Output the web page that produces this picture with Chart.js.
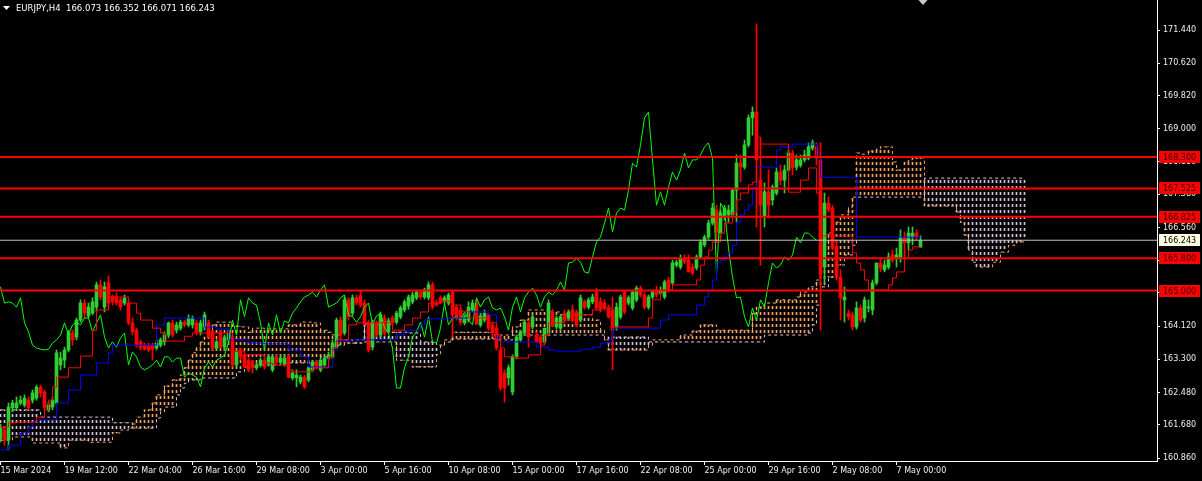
<!DOCTYPE html>
<html>
<head>
<meta charset="utf-8">
<script src="https://cdn.jsdelivr.net/npm/chart.js@4.4.1/dist/chart.umd.min.js"></script>
<style>
  html, body { margin: 0; padding: 0; background: #000; }
  canvas { display: block; }
</style>
</head>
<body>
<canvas id="chart" width="1202" height="481"></canvas>
<script>
// EURJPY H4 with Ichimoku
const chartTitle = 'EURJPY,H4  166.073 166.352 166.071 166.243';

const timeLabels = ['15 Mar 2024', '19 Mar 12:00', '22 Mar 04:00', '26 Mar 16:00', '29 Mar 08:00',
  '3 Apr 00:00', '5 Apr 16:00', '10 Apr 08:00', '15 Apr 00:00', '17 Apr 16:00', '22 Apr 08:00',
  '25 Apr 00:00', '29 Apr 16:00', '2 May 08:00', '7 May 00:00'];

const priceTicks = [171.44, 170.62, 169.82, 169.00, 168.18, 167.38, 166.56, 165.74, 164.94,
  164.12, 163.30, 162.48, 161.68, 160.86];

const opens = [161.35,161.55,161.31,162.10,162.10,162.22,162.17,162.29,162.29,162.34,
162.61,162.49,162.05,162.12,162.22,163.16,163.28,163.53,163.95,163.85,
164.27,164.69,164.37,164.44,164.59,165.14,164.59,165.19,164.84,164.84,
164.77,164.69,164.69,164.20,164.02,163.73,163.65,163.65,163.65,163.58,
163.65,163.73,163.90,164.20,164.02,164.07,164.22,164.15,164.15,164.20,
163.98,164.10,164.20,163.98,163.58,163.95,163.60,163.78,163.83,163.16,
163.53,163.41,163.28,163.23,163.09,163.16,163.28,163.21,163.04,163.36,
163.23,163.18,163.36,162.84,162.84,162.74,162.86,162.79,163.04,163.23,
163.04,163.16,163.33,163.36,163.60,164.27,163.95,164.77,164.44,164.82,
164.87,164.69,164.20,163.60,164.20,163.90,164.32,163.99,164.32,164.22,
164.35,164.52,164.62,164.72,164.82,164.96,164.84,164.82,165.14,164.69,
164.82,164.74,164.69,164.96,164.59,164.52,164.20,164.27,164.52,164.69,
164.15,164.27,164.40,164.15,164.07,163.53,162.96,162.84,162.49,163.36,
163.78,163.95,164.20,164.10,163.90,163.85,163.73,163.95,164.47,164.10,
164.07,164.44,164.32,164.52,164.47,164.27,164.72,164.59,164.72,164.96,
164.72,164.69,164.57,164.52,164.10,164.35,164.96,164.69,164.57,164.77,
165.06,164.89,164.59,164.84,165.01,164.94,164.84,165.26,165.19,165.63,
165.58,165.80,165.75,165.58,165.56,165.83,166.13,166.32,166.67,166.99,
166.42,166.82,166.87,166.87,167.48,168.15,168.05,168.60,169.27,169.41,
167.73,166.82,167.44,167.24,167.41,167.93,167.73,167.98,168.40,168.05,
168.10,168.23,168.27,168.52,168.55,168.23,165.58,167.16,167.04,166.08,
165.33,164.77,164.44,164.40,164.10,164.57,164.32,164.57,164.52,165.19,
165.68,165.51,165.58,165.88,165.80,165.83,166.32,166.18,166.32,166.42,
166.073];

const highs = [161.70,161.63,162.22,162.29,162.37,162.39,162.42,162.37,162.54,162.66,
162.66,162.54,162.24,162.37,163.53,163.48,163.60,164.02,164.02,164.32,
164.77,164.77,164.69,164.82,165.21,165.26,165.21,165.36,164.89,164.94,
164.82,164.89,164.77,164.32,164.07,163.78,163.70,163.70,163.70,163.78,
163.83,163.98,164.22,164.27,164.22,164.27,164.27,164.40,164.37,164.27,
164.27,164.47,164.27,164.02,163.78,164.02,163.90,164.02,163.90,163.53,
163.58,163.46,163.33,163.28,163.21,163.33,163.33,163.41,163.41,163.41,
163.41,163.41,163.41,163.04,163.04,162.91,162.91,163.13,163.28,163.28,
163.33,163.38,163.48,163.78,164.32,164.35,164.84,164.82,164.89,164.89,
165.01,164.77,164.27,164.27,164.25,164.47,164.40,164.32,164.37,164.49,
164.62,164.77,164.89,164.96,165.01,165.01,165.06,165.21,165.21,164.77,
164.87,164.87,164.94,165.01,164.64,164.59,164.40,164.72,164.77,164.77,
164.44,164.52,164.44,164.22,164.15,163.58,163.04,163.16,163.41,163.90,
164.02,164.27,164.27,164.40,163.98,163.90,164.07,164.77,164.54,164.37,
164.40,164.52,164.52,164.64,164.52,164.89,164.77,164.82,164.91,165.06,
164.82,164.77,164.64,164.84,164.69,164.89,165.01,164.87,165.01,165.11,
165.11,164.96,164.89,165.01,165.11,165.09,165.26,165.33,165.75,165.75,
165.88,165.88,165.88,165.66,165.88,166.25,166.37,166.74,167.16,167.11,
166.99,167.11,167.11,167.53,168.35,168.35,168.72,169.34,169.54,171.59,
168.79,167.66,167.98,167.61,168.03,168.10,168.10,168.47,168.47,168.35,
168.35,168.47,168.65,168.72,168.65,168.65,167.41,167.31,167.11,166.25,
165.51,165.09,164.52,164.47,164.72,164.64,164.84,164.77,165.26,165.68,
165.80,165.75,165.93,166.00,166.05,166.50,166.45,166.57,166.57,166.50,
166.352];

const lows = [161.26,161.18,161.06,162.00,162.05,162.17,162.12,162.05,162.22,162.29,
162.37,162.05,162.00,162.05,162.17,163.04,163.09,163.48,163.65,163.78,
164.22,164.32,164.32,164.40,164.47,164.77,164.47,164.59,164.64,164.64,
164.52,164.64,164.15,163.90,163.60,163.53,163.53,163.48,163.28,163.53,
163.60,163.65,163.83,163.85,163.95,164.02,164.10,164.10,164.07,163.90,
163.90,164.02,163.83,163.53,163.53,163.58,163.53,163.73,163.11,163.11,
163.28,163.09,162.99,162.96,163.04,163.11,163.06,163.13,162.99,163.18,
163.16,163.13,162.84,162.79,162.62,162.69,162.57,162.74,162.99,163.06,
162.99,163.11,163.28,163.31,163.55,163.78,163.90,164.27,164.37,164.64,
164.59,164.15,163.48,163.53,163.85,163.85,163.88,163.95,164.15,164.17,
164.30,164.47,164.54,164.67,164.77,164.79,164.79,164.77,164.54,164.62,
164.67,164.69,164.64,163.85,164.27,164.15,164.15,164.22,164.47,164.17,
164.10,164.22,164.02,163.85,163.53,162.54,162.24,162.66,162.42,163.31,
163.73,163.90,163.60,164.05,163.70,163.65,163.68,163.90,164.10,164.05,
164.02,164.22,164.27,164.22,164.10,164.22,164.54,164.54,164.67,164.52,
164.47,164.52,164.32,163.04,164.02,164.30,164.42,164.64,164.52,164.72,
164.84,164.54,164.54,164.79,164.84,164.89,164.79,164.96,165.14,165.58,
165.53,165.66,165.46,165.38,165.51,165.78,166.08,166.27,166.62,166.18,
166.30,166.74,166.69,166.82,166.69,167.68,168.00,168.55,168.84,166.57,
165.63,166.57,166.79,167.11,167.36,167.61,167.41,167.93,167.86,167.98,
168.05,168.18,168.23,168.47,168.10,164.02,165.19,166.94,166.00,165.26,
164.27,164.22,164.27,164.02,164.05,164.22,164.22,164.47,164.40,165.14,
165.46,165.46,165.53,165.70,165.58,165.70,165.80,166.00,166.13,166.25,
166.071];

const closes = [161.60,161.31,162.12,162.22,162.22,162.29,162.34,162.10,162.47,162.61,
162.47,162.10,162.17,162.29,163.46,163.33,163.53,163.95,163.78,164.27,
164.69,164.44,164.59,164.72,165.14,164.84,165.09,164.69,164.72,164.69,
164.59,164.82,164.20,163.98,163.65,163.58,163.55,163.53,163.55,163.70,
163.78,163.90,164.20,163.90,164.15,164.22,164.15,164.32,164.32,163.98,
164.20,164.40,163.85,163.58,163.73,163.60,163.83,163.95,163.16,163.48,
163.36,163.11,163.04,163.09,163.16,163.28,163.11,163.36,163.36,163.23,
163.33,163.33,162.86,162.96,162.91,162.86,162.62,163.09,163.23,163.11,
163.28,163.33,163.41,163.70,164.27,163.90,164.77,164.35,164.82,164.69,
164.64,164.20,163.53,164.20,163.90,164.40,163.95,164.25,164.20,164.44,
164.57,164.72,164.84,164.89,164.96,164.84,165.01,165.14,164.59,164.64,
164.69,164.82,164.89,164.40,164.35,164.22,164.35,164.59,164.69,164.17,
164.37,164.44,164.07,163.95,163.58,162.59,162.59,163.09,163.36,163.85,
163.98,164.22,163.85,164.35,163.73,163.70,164.07,164.69,164.15,164.32,
164.35,164.27,164.47,164.27,164.15,164.82,164.59,164.77,164.84,164.57,
164.52,164.57,164.35,164.02,164.59,164.84,164.47,164.82,164.96,165.06,
164.89,164.59,164.84,164.96,164.89,165.01,165.21,165.01,165.68,165.70,
165.80,165.70,165.46,165.43,165.83,166.20,166.32,166.67,167.04,166.45,
166.92,167.04,166.99,167.48,168.15,168.05,168.60,169.27,169.41,168.23,
167.11,167.44,167.11,167.56,167.93,167.73,167.98,168.40,168.03,168.23,
168.23,168.35,168.55,168.65,168.27,165.38,167.16,166.99,166.05,165.33,
164.82,164.84,164.35,164.10,164.57,164.27,164.77,164.59,165.19,165.68,
165.56,165.63,165.83,165.75,165.88,166.32,166.18,166.42,166.42,166.32,
166.243];

// Ichimoku lines as [bar, value] where the value changes
const tenkanSteps = [[0,161.63],[2,161.73],[4,161.75],[9,161.87],[11,162.05],[12,162.29],[13,162.61],
  [14,162.86],[17,163.09],[20,163.38],[23,164.02],[24,164.52],[27,164.84],[32,164.69],[34,164.44],
  [35,164.27],[38,164.07],[40,163.95],[41,163.75],[46,163.87],[48,163.95],[58,163.50],[61,163.41],
  [66,163.21],[68,163.16],[72,163.04],[73,162.99],[78,163.09],[82,163.36],[83,163.58],[84,163.78],
  [87,164.15],[89,164.20],[98,164.02],[101,164.15],[103,164.32],[105,164.47],[107,164.69],[110,164.74],
  [113,164.64],[115,164.49],[117,164.32],[122,164.20],[124,163.90],[125,163.58],[126,163.36],
  [129,163.33],[132,163.41],[135,163.65],[136,163.90],[137,164.20],[141,164.27],[144,164.40],
  [148,164.52],[150,164.57],[153,164.10],[162,164.32],[163,164.77],[165,165.01],[168,165.14],
  [174,165.26],[175,165.63],[176,165.83],[177,166.00],[178,166.20],[180,166.42],[181,166.67],
  [183,166.92],[184,167.24],[185,167.41],[187,167.61],[188,167.68],[189,168.79],[190,168.62],
  [197,167.43],[200,167.73],[202,168.03],[204,167.41],[205,166.35],[213,165.93],[214,165.68],
  [215,165.51],[216,165.26],[217,165.01],[222,165.14],[223,165.31],[224,165.46],[226,165.80],
  [227,166.00],[228,166.08]];

const kijunSteps = [[0,161.06],[2,161.18],[5,161.48],[7,161.63],[8,161.75],[9,161.80],[14,162.22],
  [17,162.54],[20,162.91],[24,163.21],[27,163.46],[28,163.65],[39,164.15],[41,164.32],[51,164.10],
  [54,164.05],[57,163.78],[62,163.70],[66,163.68],[72,163.53],[75,163.36],[77,163.11],[83,163.53],
  [84,163.75],[89,163.78],[99,163.90],[101,164.02],[105,164.15],[106,164.27],[107,164.30],
  [112,164.32],[117,164.47],[122,164.40],[124,163.83],[125,163.73],[134,163.60],[137,163.53],
  [139,163.50],[145,163.55],[148,163.60],[150,163.70],[152,163.78],[153,164.07],[165,164.27],
  [167,164.40],[174,164.64],[176,164.84],[177,165.01],[178,165.26],[179,165.70],[180,165.75],
  [181,165.85],[182,165.93],[183,166.12],[184,166.69],[185,166.87],[186,166.99],[187,167.11],
  [188,167.53],[189,168.05],[194,168.47],[195,168.55],[198,168.62],[204,168.30],[205,167.80],
  [214,166.32]];

const spanASteps = [[0,161.30],[3,161.38],[8,161.23],[15,161.11],[17,161.30],[22,161.25],[28,161.48],
  [30,161.55],[32,161.60],[33,161.70],[34,161.87],[36,162.05],[38,162.22],[39,162.42],[41,162.64],
  [43,162.79],[45,162.91],[46,163.09],[47,163.28],[48,163.46],[49,163.60],[50,163.73],[51,163.85],
  [53,164.15],[54,164.22],[58,164.12],[60,164.10],[62,163.97],[63,164.07],[66,164.05],[72,164.15],
  [75,164.22],[78,164.20],[80,164.02],[82,163.97],[83,163.90],[85,163.78],[88,163.70],[91,163.73],
  [99,163.28],[103,163.11],[109,163.41],[110,163.65],[111,163.78],[113,163.97],[123,163.90],
  [128,164.10],[130,164.27],[132,164.52],[137,164.47],[140,164.40],[148,164.27],[150,164.02],
  [151,163.78],[152,163.53],[162,163.65],[163,163.78],[170,163.90],[173,164.00],[175,164.15],
  [179,164.02],[188,164.44],[189,164.59],[191,164.69],[194,164.77],[199,164.84],[200,164.96],
  [202,165.09],[204,165.26],[205,165.63],[206,166.00],[207,166.42],[208,166.69],[210,166.87],
  [212,167.06],[213,167.31],[214,168.40],[215,168.37],[217,168.45],[219,168.50],[220,168.55],
  [223,168.18],[224,167.98],[226,168.18],[227,168.23],[228,168.28],[231,167.09],[239,166.94],
  [240,166.69],[241,166.37],[242,166.00],[243,165.70],[244,165.58],[248,165.70],[250,165.95],
  [252,166.12],[254,166.20],[256,166.25]];

const spanBSteps = [[0,162.05],[10,161.87],[28,161.73],[33,161.60],[39,161.85],[40,162.00],[41,162.12],
  [44,162.42],[45,162.59],[46,162.71],[47,162.79],[50,162.84],[59,162.99],[61,163.11],[64,163.16],
  [70,163.21],[80,163.36],[83,163.65],[86,163.70],[89,163.78],[91,164.17],[98,163.97],[102,163.95],
  [105,163.73],[109,163.65],[111,163.73],[113,163.80],[124,163.78],[128,163.90],[151,163.78],
  [152,163.85],[162,163.73],[191,163.90],[202,163.95],[203,164.15],[204,164.64],[205,165.09],
  [207,165.33],[209,165.63],[211,165.88],[213,166.12],[214,167.31],[231,167.78],[256,167.78]];

const levels = [168.300, 167.525, 166.825, 165.800, 165.000];
const lastPrice = 166.243;
const kumoShift = 26;

// layout: 4 px per bar, plot area 1157 x 461
const PX_PER_BAR = 4;
const LABEL_EVERY = 16;
const X_MIN = -0.125;
const X_MAX = X_MIN + 1157 / PX_PER_BAR;
const Y_MIN = 160.786;
const Y_MAX = 172.182;

const BULL = '#32cd32';
const BEAR = '#ff0000';
const SAND = '#f4a460';
const THISTLE = '#d8bfd8';
const AXIS = '#ffffff';
const TEXT = '#f3f0e2';
const FONT = 'DejaVu Sans';

const lastBar = closes.length - 1;

function stepPoints(steps, endBar) {
  const pts = steps.map(([x, y]) => ({ x, y }));
  const last = steps[steps.length - 1];
  if (last[0] < endBar) pts.push({ x: endBar, y: last[1] });
  return pts;
}

function heldValues(steps, endBar) {
  const out = [];
  let k = 0;
  for (let i = 0; i <= endBar; i++) {
    while (k + 1 < steps.length && steps[k + 1][0] <= i) k++;
    out.push(steps[k][1]);
  }
  return out;
}

// dotted hatch for the cloud: 3 px on, 3 px off
function dashPattern(color) {
  const c = document.createElement('canvas');
  c.width = 1;
  c.height = 6;
  const g = c.getContext('2d');
  g.fillStyle = color;
  g.fillRect(0, 0, 1, 3);
  return g.createPattern(c, 'repeat');
}

const sandHatch = dashPattern(SAND);
const thistleHatch = dashPattern(THISTLE);

const cloudEnd = lastBar + kumoShift;
const spanA = heldValues(spanASteps, cloudEnd);
const spanB = heldValues(spanBSteps, cloudEnd);

const candleColors = closes.map((c, i) => (c >= opens[i] ? BULL : BEAR));

const lineBase = { type: 'line', pointRadius: 0, borderWidth: 1, fill: false, tension: 0 };
const barBase = { type: 'bar', grouped: false, borderWidth: 0, borderSkipped: false };

const datasets = [
  {
    ...barBase, label: 'kumo', order: 20, barThickness: 1,
    data: spanA.map((a, i) => ({ x: i, y: [a, spanB[i]] })),
    backgroundColor: spanA.map((a, i) => (a >= spanB[i] ? sandHatch : thistleHatch))
  },
  { ...lineBase, label: 'Senkou A', order: 19, stepped: true, borderColor: SAND, borderDash: [3, 3],
    data: stepPoints(spanASteps, cloudEnd) },
  { ...lineBase, label: 'Senkou B', order: 19, stepped: true, borderColor: THISTLE, borderDash: [3, 3],
    data: stepPoints(spanBSteps, cloudEnd) },
  {
    ...barBase, label: 'wicks', order: 15, barThickness: 1,
    data: closes.map((c, i) => ({ x: i, y: [lows[i], highs[i]] })),
    backgroundColor: candleColors
  },
  {
    ...barBase, label: 'bodies', order: 14, barThickness: 3, minBarLength: 1,
    data: closes.map((c, i) => ({ x: i, y: [opens[i], c] })),
    backgroundColor: candleColors
  },
  { ...lineBase, label: 'Chikou', order: 12, borderColor: '#00ff00',
    data: closes.slice(kumoShift).map((c, k) => ({ x: k, y: c })) },
  { ...lineBase, label: 'Kijun', order: 11, stepped: true, borderColor: '#0000ff',
    data: stepPoints(kijunSteps, lastBar) },
  { ...lineBase, label: 'Tenkan', order: 10, stepped: true, borderColor: '#ff0000',
    data: stepPoints(tenkanSteps, lastBar) },
  { ...lineBase, label: 'price', order: 3, borderColor: '#c0c0c0',
    data: [{ x: X_MIN, y: lastPrice }, { x: X_MAX, y: lastPrice }] }
];

levels.forEach(v => {
  datasets.push({ ...lineBase, label: 'level ' + v, order: 2, borderColor: '#ff0000', borderWidth: 2,
    data: [{ x: X_MIN, y: v }, { x: X_MAX, y: v }] });
});

const overlay = {
  id: 'overlay',
  beforeDraw(chart) {
    const ctx = chart.ctx;
    ctx.save();
    ctx.fillStyle = '#000';
    ctx.fillRect(0, 0, chart.width, chart.height);
    ctx.restore();
  },
  afterDraw(chart) {
    const ctx = chart.ctx;
    const y = chart.scales.y;
    const left = chart.chartArea.right + 2;
    ctx.save();
    ctx.font = '8px "' + FONT + '"';
    ctx.textBaseline = 'middle';
    ctx.textAlign = 'left';

    // level tags on the price axis
    levels.forEach(v => {
      const py = Math.round(y.getPixelForValue(v));
      ctx.fillStyle = '#ff0000';
      ctx.fillRect(left, py - 6, 41, 12);
      ctx.fillStyle = '#300000';
      ctx.fillText(v.toFixed(3), left + 4, py + 0.5);
    });

    // bid price tag
    const pp = Math.round(y.getPixelForValue(lastPrice));
    ctx.fillStyle = '#fffbe0';
    ctx.fillRect(left, pp - 6, 41, 12);
    ctx.fillStyle = '#000';
    ctx.fillText(lastPrice.toFixed(3), left + 4, pp + 0.5);

    // chart title
    ctx.fillStyle = '#ffffff';
    ctx.beginPath();
    ctx.moveTo(3, 6);
    ctx.lineTo(10, 6);
    ctx.lineTo(6.5, 10);
    ctx.closePath();
    ctx.fill();
    ctx.font = '8.5px "' + FONT + '"';
    ctx.fillText(chartTitle, 16, 9);

    // chart shift marker
    const sx = chart.scales.x.getPixelForValue(lastBar) + 2;
    ctx.fillStyle = '#c8c8c8';
    ctx.beginPath();
    ctx.moveTo(sx - 4, 0);
    ctx.lineTo(sx + 5, 0);
    ctx.lineTo(sx + 0.5, 5);
    ctx.closePath();
    ctx.fill();
    ctx.restore();
  }
};

new Chart(document.getElementById('chart').getContext('2d'), {
  type: 'bar',
  data: { datasets },
  plugins: [overlay],
  options: {
    responsive: false,
    animation: false,
    devicePixelRatio: 1,
    events: [],
    layout: { padding: 0 },
    plugins: { legend: { display: false }, tooltip: { enabled: false } },
    scales: {
      x: {
        type: 'linear',
        position: 'bottom',
        min: X_MIN,
        max: X_MAX,
        offset: false,
        bounds: 'data',
        afterBuildTicks: s => { s.ticks = timeLabels.map((_, k) => ({ value: k * LABEL_EVERY })); },
        afterFit: s => { s.height = 20; s.paddingLeft = 0; s.paddingRight = 0; },
        grid: { display: true, drawOnChartArea: false, drawTicks: true, tickLength: 4, color: AXIS, offset: false },
        border: { display: true, color: AXIS, width: 1 },
        ticks: {
          autoSkip: false, maxRotation: 0, minRotation: 0, align: 'start', padding: 1,
          color: TEXT, font: { family: FONT, size: 8 },
          callback: v => timeLabels[Math.round(v / LABEL_EVERY)] || ''
        }
      },
      y: {
        type: 'linear',
        position: 'right',
        min: Y_MIN,
        max: Y_MAX,
        bounds: 'data',
        afterBuildTicks: s => { s.ticks = priceTicks.map(v => ({ value: v })); },
        afterFit: s => { s.width = 45; s.paddingTop = 0; s.paddingBottom = 0; },
        grid: { display: true, drawOnChartArea: false, drawTicks: true, tickLength: 3, color: AXIS },
        border: { display: true, color: AXIS, width: 1 },
        ticks: {
          padding: 3, color: TEXT, font: { family: FONT, size: 8 },
          callback: v => Number(v).toFixed(3)
        }
      }
    }
  }
});
</script>
</body>
</html>
